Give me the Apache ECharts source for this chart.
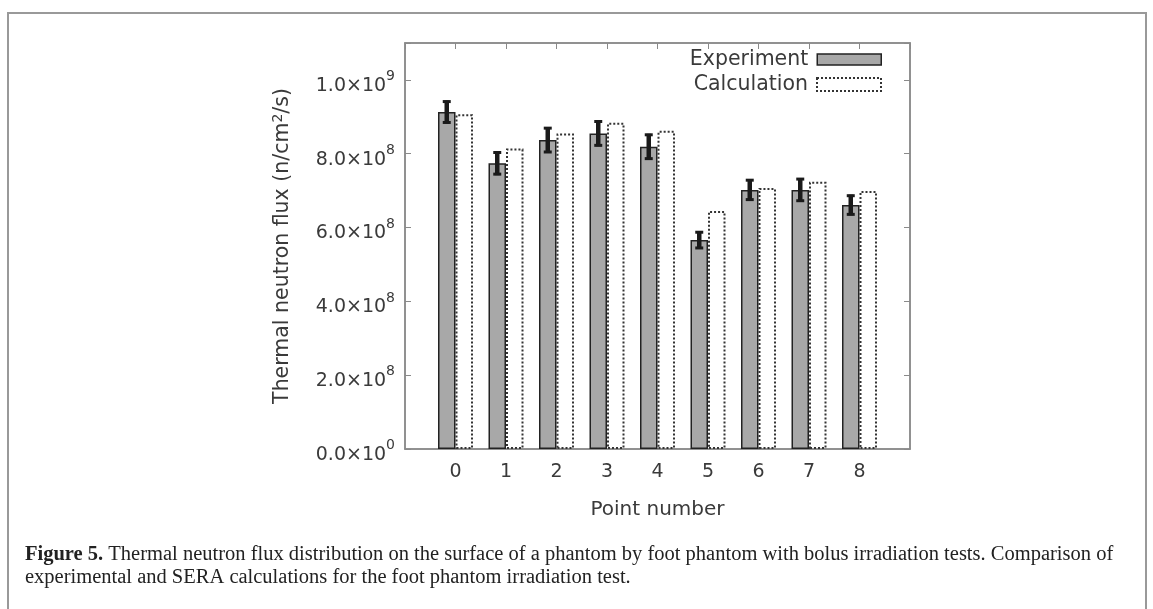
<!DOCTYPE html>
<html>
<head>
<meta charset="utf-8">
<title>Thermal neutron flux</title>
<script src="https://cdn.jsdelivr.net/npm/echarts@6/dist/echarts.min.js"></script>
<style>
	html, body { margin: 0; padding: 0; background: #ffffff; }
	#chart { width: 1153px; height: 609px; }
</style>
</head>
<body>
<div id="chart"></div>
<script>
/* data */
var pointNumbers = [0, 1, 2, 3, 4, 5, 6, 7, 8];
var experimentValues = [9.13e8, 7.74e8, 8.37e8, 8.55e8, 8.19e8, 5.66e8, 7.02e8, 7.02e8, 6.61e8];
var experimentErrors = [3.1e7, 3.2e7, 3.5e7, 3.5e7, 3.5e7, 2.4e7, 2.9e7, 3.2e7, 2.8e7];
var calculationValues = [9.07e8, 8.14e8, 8.55e8, 8.84e8, 8.62e8, 6.45e8, 7.07e8, 7.24e8, 6.99e8];
var yTickValues = [0, 2e8, 4e8, 6e8, 8e8, 1e9];

var barWidth = 17.5;
var textColor = '#3a3a3a';
var frameColor = '#8a8a8a';
var font = 'DejaVu Sans';

window.onload = function () {
	var chart = echarts.init(document.getElementById('chart'));

	/* y tick labels like 2.0x10^8 */
	function FnSci(v) {
		if (yTickValues.indexOf(v) < 0) {
			return '';
		}
		if (v === 0) {
			return '{b|0.0×10}{s|0}';
		}
		var e = Math.floor(Math.log10(v) + 1e-9);
		var m = v / Math.pow(10, e);
		return '{b|' + m.toFixed(1) + '×10}{s|' + e + '}';
	}

	var expData = pointNumbers.map(function (p, i) { return [p, experimentValues[i]]; });
	var calcData = pointNumbers.map(function (p, i) { return [p, calculationValues[i]]; });
	var errData = pointNumbers.map(function (p, i) {
		return [p, experimentValues[i] - experimentErrors[i], experimentValues[i] + experimentErrors[i]];
	});

	var legendText = { fontFamily: font, fontSize: 20.5, color: textColor, padding: [0, 4, 0, 0] };

	var option = {
		backgroundColor: '#ffffff',
		animation: false,
		grid: {
			left: 405,
			right: 243,
			top: 43,
			bottom: 160,
			show: true,
			borderColor: frameColor,
			borderWidth: 1.5
		},
		legend: [{
			data: ['Experiment'],
			orient: 'vertical',
			align: 'right',
			padding: 0,
			right: 271,
			top: 49,
			itemWidth: 64,
			itemHeight: 11,
			icon: 'rect',
			textStyle: legendText,
			itemStyle: { color: '#a8a8a8', borderColor: '#222222', borderWidth: 1.5 }
		}, {
			data: ['Calculation'],
			orient: 'vertical',
			align: 'right',
			padding: 0,
			right: 271,
			top: 74,
			itemWidth: 64,
			itemHeight: 13,
			icon: 'rect',
			textStyle: legendText,
			itemStyle: { color: 'rgba(0,0,0,0)', borderColor: '#333333', borderWidth: 2, borderType: 'dotted' }
		}],
		xAxis: [{
			type: 'value',
			min: -1,
			max: 9,
			interval: 1,
			name: 'Point number',
			nameLocation: 'middle',
			nameGap: 51,
			nameTextStyle: { fontFamily: font, fontSize: 20, color: textColor },
			axisLine: { onZero: false, lineStyle: { color: frameColor, width: 1.5 } },
			axisTick: { show: false },
			splitLine: { show: false },
			axisLabel: {
				margin: 14,
				fontFamily: font,
				fontSize: 19,
				color: textColor,
				formatter: function (v) {
					return pointNumbers.indexOf(v) >= 0 ? String(v) : '';
				}
			}
		}, {
			type: 'value',
			position: 'top',
			min: -1,
			max: 9,
			interval: 1,
			axisLine: { onZero: false, lineStyle: { color: frameColor, width: 1.5 } },
			axisTick: { inside: true, length: 6, lineStyle: { color: frameColor } },
			axisLabel: { show: false },
			splitLine: { show: false }
		}],
		yAxis: [{
			type: 'value',
			min: 0,
			max: 1.1e9,
			interval: 2e8,
			name: 'Thermal neutron flux (n/cm{s|2}/s)',
			nameLocation: 'middle',
			nameRotate: 90,
			nameGap: 111,
			nameTextStyle: {
				fontFamily: font,
				fontSize: 20.5,
				color: textColor,
				rich: {
					s: { fontFamily: font, fontSize: 14, color: textColor, verticalAlign: 'top', lineHeight: 23 }
				}
			},
			axisLine: { show: true, onZero: false, lineStyle: { color: frameColor, width: 1.5 } },
			axisTick: { show: true, inside: true, length: 6, lineStyle: { color: frameColor } },
			splitLine: { show: false },
			axisLabel: {
				margin: 10,
				formatter: FnSci,
				rich: {
					b: { fontFamily: font, fontSize: 19, color: textColor, verticalAlign: 'bottom', lineHeight: 31 },
					s: { fontFamily: font, fontSize: 14, color: textColor, verticalAlign: 'top', lineHeight: 14, padding: [5, 0, 0, 0] }
				}
			}
		}, {
			type: 'value',
			position: 'right',
			min: 0,
			max: 1.1e9,
			interval: 2e8,
			axisLine: { show: true, onZero: false, lineStyle: { color: frameColor, width: 1.5 } },
			axisTick: { show: true, inside: true, length: 6, lineStyle: { color: frameColor } },
			axisLabel: { show: false },
			splitLine: { show: false }
		}],
		series: [{
			name: 'Experiment',
			type: 'bar',
			barWidth: barWidth,
			barGap: '0%',
			data: expData,
			itemStyle: { color: '#a8a8a8', borderColor: '#222222', borderWidth: 1.5 },
			z: 2
		}, {
			name: 'Calculation',
			type: 'bar',
			barWidth: barWidth,
			barGap: '0%',
			data: calcData,
			itemStyle: { color: 'rgba(0,0,0,0)', borderColor: '#333333', borderWidth: 2, borderType: 'dotted' },
			z: 3
		}, {
			/* error bars of the experiment */
			name: 'err',
			type: 'custom',
			data: errData,
			encode: { x: 0, y: [1, 2] },
			z: 5,
			renderItem: function (params, api) {
				var x = api.value(0);
				var top = api.coord([x, api.value(2)]);
				var bot = api.coord([x, api.value(1)]);
				var cx = top[0] - barWidth / 2;
				var style = { stroke: '#1a1a1a', lineWidth: 4.5 };
				var capStyle = { stroke: '#1a1a1a', lineWidth: 3 };
				return {
					type: 'group',
					children: [{
						type: 'line',
						shape: { x1: cx, y1: top[1], x2: cx, y2: bot[1] },
						style: style
					}, {
						type: 'line',
						shape: { x1: cx - 4, y1: top[1] + 1, x2: cx + 4, y2: top[1] + 1 },
						style: capStyle
					}, {
						type: 'line',
						shape: { x1: cx - 4, y1: bot[1] - 1, x2: cx + 4, y2: bot[1] - 1 },
						style: capStyle
					}]
				};
			}
		}],
		graphic: [{
			/* outer figure frame */
			type: 'rect',
			silent: true,
			shape: { x: 8, y: 13, width: 1138, height: 700 },
			style: { fill: 'none', stroke: '#999999', lineWidth: 2 }
		}, {
			type: 'text',
			left: 25,
			top: 543,
			silent: true,
			style: {
				text: '{bold|Figure 5.} Thermal neutron flux distribution on the surface of a phantom by foot phantom with bolus irradiation tests. Comparison of\nexperimental and SERA calculations for the foot phantom irradiation test.',
				fontFamily: 'Liberation Serif',
				fontSize: 20.5,
				lineHeight: 23,
				fill: '#222222',
				rich: {
					bold: { fontFamily: 'Liberation Serif', fontSize: 20.5, fontWeight: 'bold', fill: '#222222' }
				}
			}
		}]
	};

	chart.setOption(option);
};
</script>
</body>
</html>
